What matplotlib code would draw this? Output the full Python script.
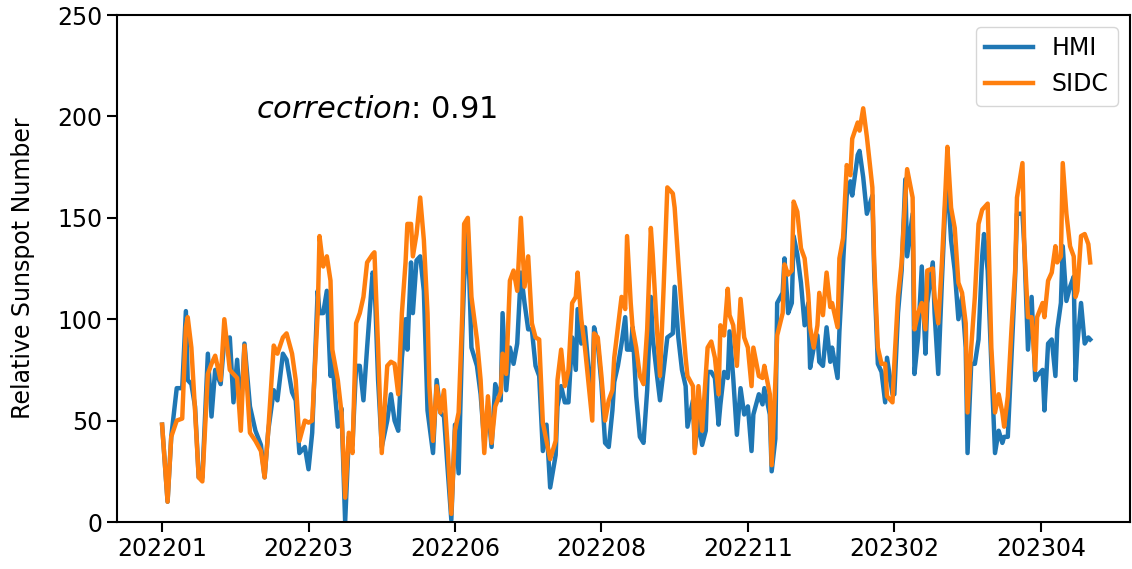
import numpy as np
import pandas as pd
import matplotlib
matplotlib.use('Agg')
import matplotlib.pyplot as plt

# day index counted from 2022-01-01
days = [0, 3, 5, 8, 11, 13, 14, 16, 18, 20, 22, 25, 27, 29, 32, 34, 37, 39, 41, 43,
        45, 48, 51, 54, 56, 58, 61, 63, 66, 68, 71, 73, 75, 78, 80, 82, 85, 86, 88, 90,
        92, 93, 96, 98, 100, 102, 104, 106, 108, 110, 112, 115, 116, 118, 120, 123, 125, 127, 129, 131,
        133, 134, 136, 137, 139, 141, 143, 145, 146, 148, 150, 152, 154, 156, 158, 160, 162, 164, 165, 167,
        169, 172, 174, 176, 178, 180, 182, 185, 186, 188, 190, 192, 194, 196, 198, 200, 202, 204, 206, 208,
        210, 212, 215, 216, 218, 220, 222, 224, 226, 227, 229, 231, 233, 235, 236, 238, 240, 242, 244, 246,
        247, 249, 251, 253, 254, 256, 257, 259, 261, 263, 265, 267, 268, 270, 272, 274, 276, 279, 280, 282,
        284, 286, 287, 290, 291, 293, 295, 297, 298, 300, 302, 304, 305, 307, 309, 310, 312, 314, 316, 318,
        320, 322, 323, 326, 328, 329, 332, 333, 335, 336, 339, 340, 342, 344, 345, 347, 349, 351, 353, 354,
        356, 358, 359, 361, 363, 365, 366, 369, 370, 372, 374, 376, 377, 380, 381, 383, 385, 388, 389, 391,
        393, 395, 396, 399, 400, 402, 404, 406, 407, 410, 411, 413, 415, 417, 418, 421, 422, 424, 426, 428,
        429, 431, 433, 435, 437, 439, 440, 442, 444, 446, 448, 449, 451, 453, 455, 457, 459, 460, 462, 464,
        466, 467, 470, 471, 473, 475, 477, 478, 481, 482, 484, 486, 488, 489, 491, 492, 494, 496, 498, 499,
        500, 502, 504, 506, 507]

hmi = [48, 10, 42, 66, 66, 104, 70, 68, 57, 22, 22, 83, 52, 75, 68, 90, 91, 59, 80, 52,
       88, 57, 45, 38, 22, 45, 65, 60, 83, 80, 64, 60, 34, 37, 26, 44, 114, 103, 103, 114,
       72, 79, 47, 56, 0, 42, 38, 77, 77, 60, 86, 123, 120, 70, 37, 50, 63, 50, 45, 81,
       100, 85, 128, 103, 129, 131, 114, 55, 48, 34, 70, 54, 52, 26, 1, 48, 24, 93, 119, 144,
       86, 77, 63, 39, 57, 37, 68, 60, 103, 65, 86, 78, 88, 123, 108, 95, 95, 77, 72, 35,
       48, 17, 33, 57, 67, 59, 59, 91, 75, 105, 88, 96, 75, 67, 96, 88, 68, 39, 37, 55,
       69, 77, 88, 101, 85, 85, 96, 62, 42, 39, 65, 111, 91, 75, 60, 75, 91, 93, 116, 91,
       75, 67, 47, 60, 36, 50, 38, 45, 74, 74, 71, 48, 58, 74, 71, 94, 71, 43, 66, 53,
       57, 35, 53, 63, 58, 66, 53, 25, 41, 108, 113, 130, 103, 108, 141, 132, 118, 97, 108, 76,
       86, 92, 79, 77, 96, 79, 86, 71, 94, 128, 161, 168, 161, 181, 183, 170, 152, 161, 123, 78,
       74, 59, 81, 63, 63, 103, 124, 169, 131, 152, 73, 91, 126, 83, 108, 128, 103, 73, 119, 160,
       169, 139, 124, 100, 111, 86, 34, 78, 78, 90, 131, 142, 124, 78, 34, 45, 39, 42, 42, 81,
       121, 152, 152, 136, 85, 111, 70, 72, 75, 55, 88, 90, 72, 95, 108, 136, 109, 116, 121, 70,
       88, 108, 88, 91, 90]

sidc = [48, 10, 42, 50, 51, 96, 101, 86, 55, 22, 20, 73, 78, 82, 70, 100, 75, 73, 71, 45,
        87, 44, 40, 35, 22, 45, 87, 83, 91, 93, 83, 70, 40, 50, 49, 50, 103, 141, 126, 131,
        119, 85, 70, 54, 12, 44, 34, 98, 103, 111, 128, 132, 133, 86, 34, 77, 79, 78, 63, 103,
        128, 147, 147, 131, 142, 160, 139, 103, 67, 40, 67, 54, 65, 37, 4, 45, 54, 103, 147, 150,
        111, 90, 70, 34, 62, 39, 57, 64, 83, 73, 119, 124, 114, 150, 116, 131, 98, 91, 90, 49,
        40, 31, 40, 70, 85, 67, 75, 108, 111, 123, 100, 86, 68, 50, 93, 91, 72, 50, 60, 65,
        81, 96, 111, 105, 141, 108, 96, 86, 72, 68, 95, 145, 132, 100, 72, 116, 165, 162, 155, 128,
        103, 81, 72, 67, 34, 67, 45, 72, 86, 89, 81, 63, 97, 92, 115, 102, 97, 77, 110, 91,
        86, 67, 86, 72, 71, 77, 63, 28, 69, 92, 103, 127, 122, 124, 158, 153, 135, 130, 112, 96,
        86, 97, 113, 102, 123, 106, 108, 96, 130, 140, 176, 171, 189, 197, 193, 204, 190, 165, 128, 86,
        78, 78, 62, 59, 78, 111, 128, 160, 174, 160, 95, 103, 108, 95, 124, 125, 111, 98, 128, 165,
        185, 155, 145, 118, 113, 98, 54, 86, 111, 147, 154, 155, 157, 86, 54, 63, 54, 47, 62, 95,
        124, 160, 177, 136, 101, 101, 75, 101, 108, 101, 119, 123, 136, 128, 131, 177, 152, 136, 131, 111,
        114, 141, 142, 137, 128]

tick_days = [0, 80, 160, 240, 320, 400, 480]
tick_labels = ['202201', '202203', '202206', '202208', '202211', '202302', '202304']

df = pd.DataFrame({'HMI': hmi, 'SIDC': sidc}, index=days)

fig = plt.figure(figsize=(11.32, 5.69), dpi=100)
ax = fig.add_axes([0.1034, 0.0826, 0.8946, 0.891])

ax.plot(df.index, df['HMI'], color='#1f77b4', linewidth=3.2, label='HMI')
ax.plot(df.index, df['SIDC'], color='#ff7f0e', linewidth=3.2, label='SIDC')

ax.set_xlim(-24.6, 528.6)
ax.set_ylim(0, 250)
ax.set_xticks(tick_days)
ax.set_xticklabels(tick_labels)
ax.set_yticks([0, 50, 100, 150, 200, 250])
ax.tick_params(labelsize=17, length=7, width=1.5)
for sp in ax.spines.values():
    sp.set_linewidth(1.5)

ax.set_ylabel('Relative Sunspot Number', fontsize=17, labelpad=16)
ax.text(0.137, 0.797, r'$\it{correction}$: 0.91', transform=ax.transAxes,
        fontsize=22, va='baseline', ha='left')
ax.legend(loc='upper right', fontsize=17)

fig.savefig('out.png', dpi=100)
